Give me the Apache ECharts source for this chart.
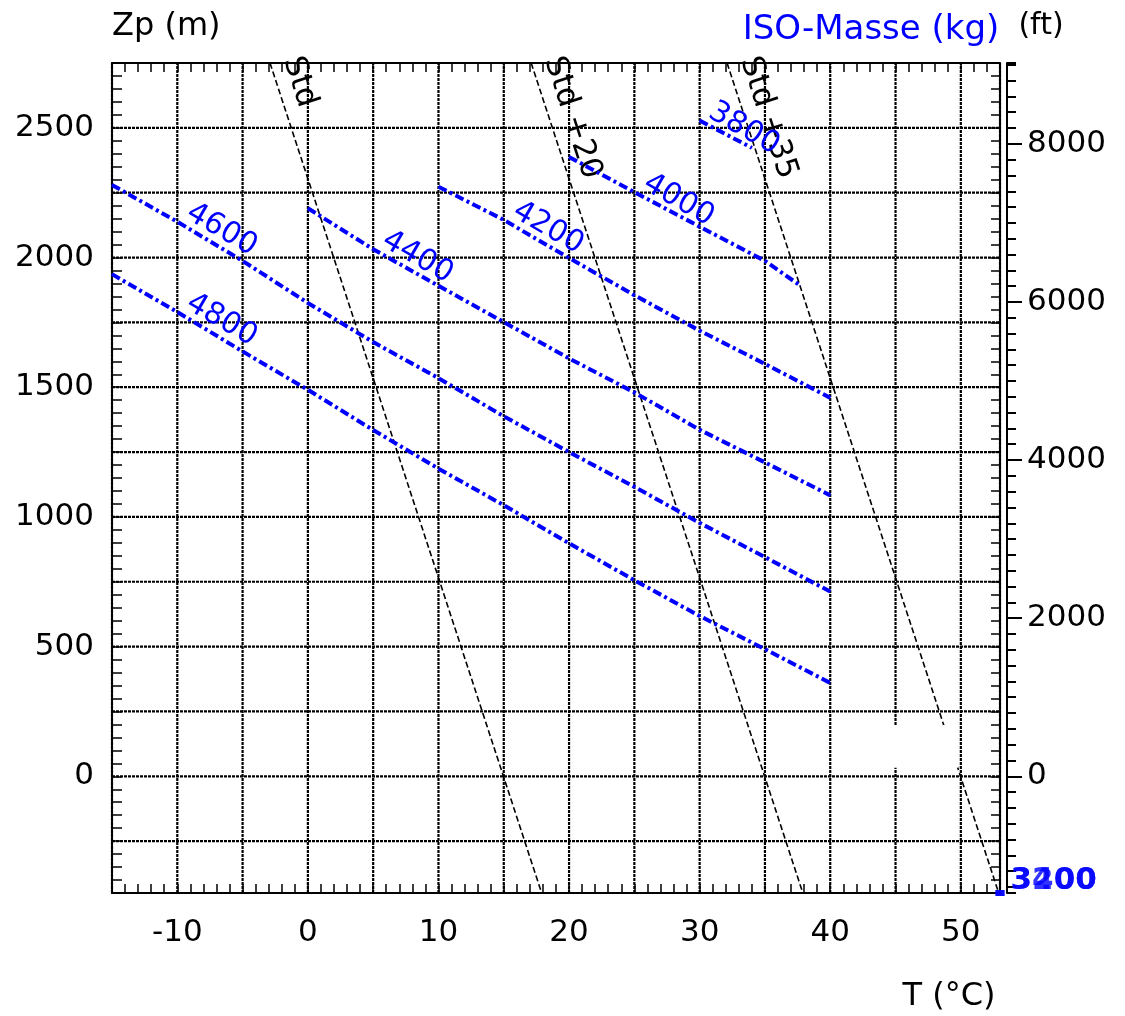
<!DOCTYPE html>
<html>
<head>
<meta charset="utf-8">
<script src="https://cdn.jsdelivr.net/npm/echarts@6/dist/echarts.min.js"></script>
<style>
html, body { margin: 0; padding: 0; background: #fff; }
#chart { width: 1125px; height: 1016px; }
</style>
</head>
<body>
<div id="chart"></div>
<script>
// Axis extents: temperature (°C) and pressure altitude (m)
const tRange = [-15, 53];
const zpRange = [-450, 2750];
const FT_PER_M = 1 / 0.3048;

// Grid lines and labelled ticks
const gridT = [-10, -5, 0, 5, 10, 15, 20, 25, 30, 35, 40, 45, 50];
const gridZp = [-250, 0, 250, 500, 750, 1000, 1250, 1500, 1750, 2000, 2250, 2500];
const tLabels = [-10, 0, 10, 20, 30, 40, 50];
const zpLabels = [0, 500, 1000, 1500, 2000, 2500];
const ftLabels = [0, 2000, 4000, 6000, 8000];

// Standard-atmosphere temperature lines, points as [T, Zp]
const stdNames = ['Std', 'Std +20', 'Std +35'];
const stdIsa = [[-2.9, 2750], [17.9, -450]];
const stdIsa20 = [[17.1, 2750], [37.9, -450]];
const stdIsa35 = [[32.1, 2750], [52.9, -450]];

// Iso-mass lines (kg), points as [T, Zp]
const massNames = ['4800', '4600', '4400', '4200', '4000', '3800'];
const mass4800 = [[-15, 1936], [-10, 1790], [-5, 1638], [0, 1490], [5, 1335], [10, 1186],
                  [15, 1045], [20, 898], [25, 756], [30, 618], [35, 490], [40, 360]];
const mass4600 = [[-15, 2280], [-10, 2138], [-5, 1987], [0, 1825], [5, 1674], [10, 1535],
                  [15, 1388], [20, 1250], [25, 1116], [30, 977], [35, 845], [40, 712]];
const mass4400 = [[0, 2190], [5, 2032], [10, 1891], [15, 1751], [20, 1611], [25, 1480],
                  [30, 1336], [35, 1210], [40, 1083]];
const mass4200 = [[10, 2273], [15, 2145], [20, 1998], [25, 1855], [30, 1718], [35, 1590], [40, 1459]];
const mass4000 = [[20, 2388], [25, 2252], [30, 2119], [35, 1987], [37.7, 1892]];
const mass3800 = [[30, 2528], [34, 2423]];

// Masses whose curves collapse onto the plot corner
const cornerNames = ['3200', '3400'];
const cornerPoint = [53, -450];

// Blank patch next to the Std +35 line
const blankT = [42, 49.8];
const blankZp = [33, 198];

const FONT = 'DejaVu Sans';
const BLUE = '#0000ff';
const dotted = { color: '#000', width: 2.2, type: [3, 1] };

function gridSeries(values, vertical) {
  return {
    type: 'custom', z: 1, silent: true, animation: false,
    data: values.map(v => vertical ? [v, zpRange[0]] : [tRange[0], v]),
    renderItem: (params, api) => {
      const v = vertical ? api.value(0) : api.value(1);
      const a = vertical ? api.coord([v, zpRange[0]]) : api.coord([tRange[0], v]);
      const b = vertical ? api.coord([v, zpRange[1]]) : api.coord([tRange[1], v]);
      return {
        type: 'line',
        shape: { x1: a[0], y1: a[1], x2: b[0], y2: b[1] },
        style: { stroke: '#000', lineWidth: 2.2, lineDash: [3, 1] }
      };
    }
  };
}

function labelledLine(points, labelIndex, label, lineStyle, z) {
  return {
    type: 'line', z: z, silent: true,
    symbol: 'circle', symbolSize: 1, showSymbol: true,
    itemStyle: { color: lineStyle.color },
    lineStyle: lineStyle,
    label: { show: false },
    data: points.map((p, i) => i === labelIndex ? { value: p, label: label } : p)
  };
}

function stdLabel(text) {
  return {
    show: true, formatter: text, position: [0, 0], rotate: -72,
    align: 'left', verticalAlign: 'bottom', offset: [2, -7],
    color: '#000', fontSize: 31, fontFamily: FONT
  };
}

function massLabel(text) {
  return {
    show: true, formatter: text, position: [0, 0], rotate: -30,
    align: 'left', verticalAlign: 'bottom', offset: [5, 0],
    color: BLUE, fontSize: 30, fontFamily: FONT
  };
}

const stdStyle = { color: '#000', width: 1.6, type: [6, 3] };
const massStyle = { color: BLUE, width: 4, type: [9, 3.5, 3, 3.5] };

const series = [gridSeries(gridT, true), gridSeries(gridZp, false)];
[stdIsa, stdIsa20, stdIsa35].forEach((pts, i) => {
  series.push(labelledLine(pts, 0, stdLabel(stdNames[i]), stdStyle, 2));
});
const massLines = [mass4800, mass4600, mass4400, mass4200, mass4000, mass3800];
massLines.forEach((pts, i) => {
  const at = pts.length > 2 ? 1 : 0;
  series.push(labelledLine(pts, at, massLabel(massNames[i]), massStyle, 3));
});

// white patch over the grid and Std +35 line
series.push({
  type: 'custom', z: 4, silent: true,
  data: [[blankT[0], blankZp[0], blankT[1], blankZp[1]]],
  renderItem: (params, api) => {
    const a = api.coord([api.value(0), api.value(3)]);
    const b = api.coord([api.value(2), api.value(1)]);
    return { type: 'rect', shape: { x: a[0], y: a[1], width: b[0] - a[0], height: b[1] - a[1] },
             style: { fill: '#fff' } };
  }
});

// collapsed iso-mass curves at the corner
series.push({
  type: 'scatter', z: 5, silent: true,
  symbol: 'rect', symbolSize: [9, 6], itemStyle: { color: BLUE },
  data: cornerNames.map(n => ({ value: cornerPoint, name: n })),
  label: {
    show: true, formatter: p => p.name, position: 'right', distance: 6, offset: [0, -12],
    color: BLUE, fontSize: 31, fontWeight: 'bold', fontFamily: FONT
  }
});

const axisText = { color: '#000', fontSize: 31, fontFamily: FONT };

const option = {
  animation: false,
  backgroundColor: '#fff',
  grid: { left: 112, top: 63, right: 125, bottom: 123, containLabel: false, outerBoundsMode: 'none' },
  xAxis: [
    {
      type: 'value', min: tRange[0], max: tRange[1], interval: 1, position: 'bottom',
      axisLine: { show: true, onZero: false, lineStyle: dotted },
      axisTick: { show: true, inside: true, length: 9, lineStyle: { color: '#000', width: 1.5 } },
      axisLabel: Object.assign({ margin: 24, formatter: v => tLabels.includes(v) ? String(v) : '' }, axisText),
      splitLine: { show: false }
    },
    {
      type: 'value', min: tRange[0], max: tRange[1], interval: 1, position: 'top',
      axisLine: { show: true, onZero: false, lineStyle: dotted },
      axisTick: { show: true, inside: true, length: 9, lineStyle: { color: '#000', width: 1.5 } },
      axisLabel: { show: false },
      splitLine: { show: false }
    }
  ],
  yAxis: [
    {
      type: 'value', min: zpRange[0], max: zpRange[1], interval: 50, position: 'left',
      axisLine: { show: true, onZero: false, lineStyle: dotted },
      axisTick: { show: true, inside: true, length: 10, lineStyle: { color: '#000', width: 1.5 } },
      axisLabel: Object.assign({ margin: 18, formatter: v => zpLabels.includes(v) ? String(v) : '' }, axisText),
      splitLine: { show: false }
    },
    {
      type: 'value', min: zpRange[0], max: zpRange[1], interval: 50, position: 'right',
      axisLine: { show: true, onZero: false, lineStyle: dotted },
      axisTick: { show: true, inside: true, length: 9, lineStyle: { color: '#000', width: 1.5 } },
      axisLabel: { show: false },
      splitLine: { show: false }
    },
    {
      type: 'value', min: zpRange[0] * FT_PER_M, max: zpRange[1] * FT_PER_M, splitNumber: 52,
      position: 'right', offset: 7,
      axisLine: { show: true, onZero: false, lineStyle: { color: '#000', width: 2 } },
      axisTick: { show: true, inside: false, length: 9, lineStyle: { color: '#000', width: 2 } },
      axisLabel: { show: false },
      splitLine: { show: false }
    },
    {
      type: 'value', min: zpRange[0] * FT_PER_M, max: zpRange[1] * FT_PER_M, splitNumber: 5,
      position: 'right', offset: 7,
      axisLine: { show: false, onZero: false },
      axisTick: { show: true, inside: false, length: 15, customValues: ftLabels,
                  lineStyle: { color: '#000', width: 2 } },
      axisLabel: Object.assign({ margin: 20, customValues: ftLabels,
                                 formatter: v => ftLabels.includes(v) ? String(v) : '' }, axisText),
      splitLine: { show: false }
    }
  ],
  graphic: [
    { type: 'text', x: 112, y: 27, silent: true,
      style: { text: 'Zp (m)', fill: '#000', fontSize: 32, fontFamily: FONT, align: 'left', verticalAlign: 'middle' } },
    { type: 'text', x: 949, y: 997, silent: true,
      style: { text: 'T (°C)', fill: '#000', fontSize: 32, fontFamily: FONT, align: 'center', verticalAlign: 'middle' } },
    { type: 'text', x: 871, y: 30, silent: true,
      style: { text: 'ISO-Masse (kg)', fill: BLUE, fontSize: 34, fontFamily: FONT, align: 'center', verticalAlign: 'middle' } },
    { type: 'text', x: 1041, y: 26, silent: true,
      style: { text: '(ft)', fill: '#000', fontSize: 30, fontFamily: FONT, align: 'center', verticalAlign: 'middle' } }
  ],
  series: series
};

const chart = echarts.init(document.getElementById('chart'), null, { renderer: 'canvas' });
chart.setOption(option);
</script>
</body>
</html>
